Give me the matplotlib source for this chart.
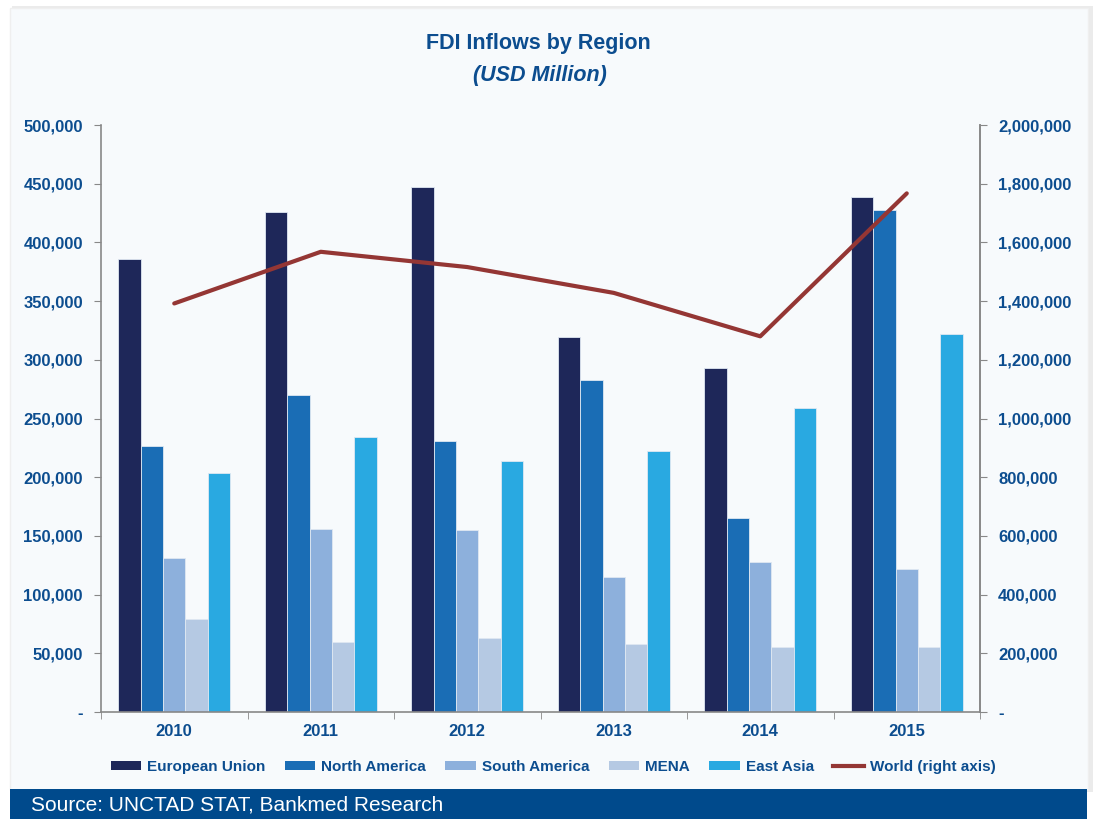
import matplotlib
matplotlib.use("Agg")
import matplotlib.pyplot as plt
import numpy as np
from matplotlib.patches import Rectangle, Patch
from matplotlib.lines import Line2D
from matplotlib.ticker import FuncFormatter, FixedLocator

# Veri (USD milyon)
years         = ["2010", "2011", "2012", "2013", "2014", "2015"]
european_union = [386000, 426000, 447000, 319000, 293000, 439000]
north_america  = [227000, 270000, 231000, 283000, 165000, 428000]
south_america  = [131000, 156000, 155000, 115000, 128000, 122000]
mena           = [79000, 60000, 63000, 58000, 55000, 55000]
east_asia      = [204000, 234000, 214000, 222000, 259000, 322000]
world          = [1392000, 1568000, 1516000, 1428000, 1280000, 1767000]

series_names  = ["European Union", "North America", "South America", "MENA", "East Asia"]
series_colors = ["#1e2759", "#1a6db5", "#8db0dc", "#b5c9e3", "#29a9e1"]
world_color   = "#943634"
text_color    = "#0c4d8f"
panel_color   = "#f7fafc"

plt.rcParams["font.family"] = ["Liberation Sans", "DejaVu Sans"]

W, H = 1094, 819
fig = plt.figure(figsize=(W / 100, H / 100), dpi=100, facecolor="white")

# panel arka planı (hafif gölge) + kaynak bandı
fig.add_artist(Rectangle((12 / W, 27 / H), 1081 / W, 786 / H,
                         transform=fig.transFigure, facecolor="#ebebeb",
                         edgecolor="none", zorder=-11))
fig.add_artist(Rectangle((10 / W, 29 / H), 1078 / W, 782 / H,
                         transform=fig.transFigure, facecolor=panel_color,
                         edgecolor="#efefef", linewidth=1.0, zorder=-10))
fig.add_artist(Rectangle((10 / W, 0), 1077 / W, 30 / H, transform=fig.transFigure,
                         facecolor="#004a8c", edgecolor="none", zorder=-5))
fig.text(31 / W, 14 / H, "Source: UNCTAD STAT, Bankmed Research", color="white",
         fontsize=15, ha="left", va="center")

ax = fig.add_axes([101 / W, 1 - 712 / H, 879 / W, 587 / H])
ax.set_facecolor(panel_color)

x = np.arange(len(years))
bw = 0.153
data = [european_union, north_america, south_america, mena, east_asia]
for i, (vals, col) in enumerate(zip(data, series_colors)):
    ax.bar(x + (i - 2) * bw, vals, width=bw, color=col, edgecolor="#dfe8f2",
           linewidth=0.6, zorder=2)

ax.set_xlim(-0.5, len(years) - 0.5)
ax.set_ylim(0, 500000)
ax.set_yticks(np.arange(0, 500001, 50000))

fmt = FuncFormatter(lambda v, p: "-" if v == 0 else f"{v:,.0f}")
ax.yaxis.set_major_formatter(fmt)

ax.set_xticks(x)
ax.set_xticklabels(years)
ax.xaxis.set_minor_locator(FixedLocator(np.arange(-0.5, len(years), 1.0)))
ax.tick_params(axis="x", which="major", length=0, pad=9)
ax.tick_params(axis="x", which="minor", length=5, color="#888888", direction="out")
ax.tick_params(axis="y", length=5, color="#888888", pad=8)

for lab in ax.get_xticklabels() + ax.get_yticklabels():
    lab.set_color(text_color)
    lab.set_fontweight("bold")
    lab.set_fontsize(12)

for s in ["left", "bottom", "right"]:
    ax.spines[s].set_color("#888888")
    ax.spines[s].set_linewidth(1.2)
ax.spines["top"].set_visible(False)

ax2 = ax.twinx()
ax2.plot(x, world, color=world_color, linewidth=3, solid_capstyle="round", zorder=3)
ax2.set_ylim(0, 2000000)
ax2.set_yticks(np.arange(0, 2000001, 200000))
ax2.yaxis.set_major_formatter(fmt)
ax2.tick_params(axis="y", length=5, color="#888888", pad=8)
for lab in ax2.get_yticklabels():
    lab.set_color(text_color)
    lab.set_fontweight("bold")
    lab.set_fontsize(12)
ax2.spines["right"].set_color("#888888")
ax2.spines["right"].set_linewidth(1.2)
ax2.spines["top"].set_visible(False)
ax2.spines["left"].set_visible(False)
ax2.spines["bottom"].set_visible(False)

# başlık
fig.text(538 / W, 1 - 43 / H, "FDI Inflows by Region", color=text_color,
         fontsize=15.5, fontweight="bold", ha="center", va="center")
fig.text(540 / W, 1 - 76 / H, "(USD Million)", color=text_color,
         fontsize=15.5, fontweight="bold", style="italic", ha="center", va="center")

# lejant
handles = [Patch(facecolor=c, edgecolor="none") for c in series_colors]
handles.append(Line2D([0], [0], color=world_color, linewidth=3))
labels = series_names + ["World (right axis)"]
leg = fig.legend(handles, labels, loc="center", bbox_to_anchor=(553 / W, 1 - 767 / H),
                 ncol=6, frameon=False, handlelength=2.0, handleheight=0.5,
                 handletextpad=0.4, columnspacing=1.25,
                 prop={"size": 11, "weight": "bold"})
for t in leg.get_texts():
    t.set_color(text_color)

fig.savefig("out.png", dpi=100, facecolor="white")
